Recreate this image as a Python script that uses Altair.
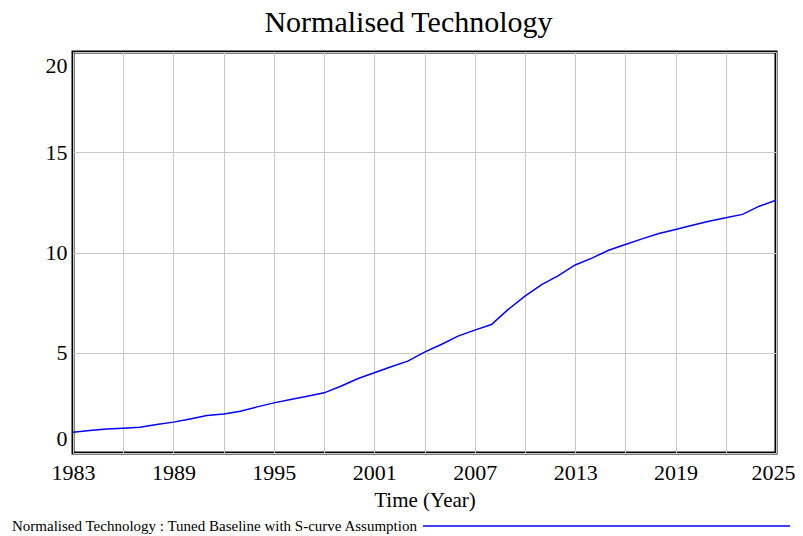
import altair as alt
import pandas as pd

years = list(range(1983, 2026))
values = [1.04, 1.12, 1.20, 1.24, 1.29, 1.42, 1.54, 1.70, 1.87, 1.95,
          2.08, 2.30, 2.50, 2.67, 2.83, 3.00, 3.33, 3.70, 4.00, 4.30,
          4.58, 5.03, 5.41, 5.83, 6.13, 6.41, 7.16, 7.82, 8.40, 8.85,
          9.38, 9.72, 10.11, 10.40, 10.68, 10.95, 11.15, 11.36, 11.56, 11.73,
          11.90, 12.31, 12.61]
x_ticks = list(range(1983, 2026, 3))
y_ticks = [0, 5, 10, 15, 20]
legend_label = "Normalised Technology : Tuned Baseline with S-curve Assumption"

df = pd.DataFrame({"year": years, "value": values})
leg_df = pd.DataFrame({"label": [legend_label]})

FONT = "Liberation Serif"
W, H = 703, 401

line = alt.Chart(df).mark_line(color="#0000ff", strokeWidth=1.5).encode(
    x=alt.X("year:Q",
            scale=alt.Scale(domain=[1983, 2025], nice=False, zero=False),
            axis=alt.Axis(values=x_ticks, format="d", title="Time (Year)",
                          labelExpr="(datum.value - 1983) % 6 == 0 ? datum.label : ''",
                          labelOffset={"condition": {"test": "datum.value == 2025", "value": -3},
                                       "value": 0},
                          labelFontSize=22, titleFontSize=21, labelPadding=9,
                          titlePadding=6, ticks=False, domain=False,
                          labelFlush=False, labelOverlap=False,
                          labelFont=FONT, titleFont=FONT, labelColor="black",
                          titleColor="black", titleFontWeight="normal",
                          gridColor="#c8c8c8", gridWidth=1)),
    y=alt.Y("value:Q",
            scale=alt.Scale(domain=[0, 20], nice=False),
            axis=alt.Axis(values=y_ticks, title=None, labelFontSize=22,
                          labelPadding=6, ticks=False, domain=False,
                          labelFlush=True, labelFlushOffset=-3,
                          labelFont=FONT, labelColor="black",
                          gridColor="#c8c8c8", gridWidth=1)),
)

leg_text = alt.Chart(leg_df).mark_text(
    align="left", baseline="middle", font=FONT, fontSize=15, color="black"
).encode(x=alt.value(-61), y=alt.value(474), text="label:N")

leg_rule = alt.Chart(leg_df).mark_rule(color="#0000ff", strokeWidth=1.5).encode(
    x=alt.value(350), x2=alt.value(717), y=alt.value(474)
)

chart = alt.layer(line, leg_text, leg_rule).properties(
    width=W, height=H,
    title=alt.TitleParams("Normalised Technology", font=FONT, fontSize=30,
                          fontWeight="normal", color="black", dx=-16, offset=14),
    autosize=alt.AutoSizeParams(type="none"),
    padding={"left": 65, "top": 44, "right": 19, "bottom": 83},
).configure(background="white").configure_view(stroke="black", strokeWidth=3)

chart.save("out.html", embed_options={"renderer": "svg", "actions": False})
